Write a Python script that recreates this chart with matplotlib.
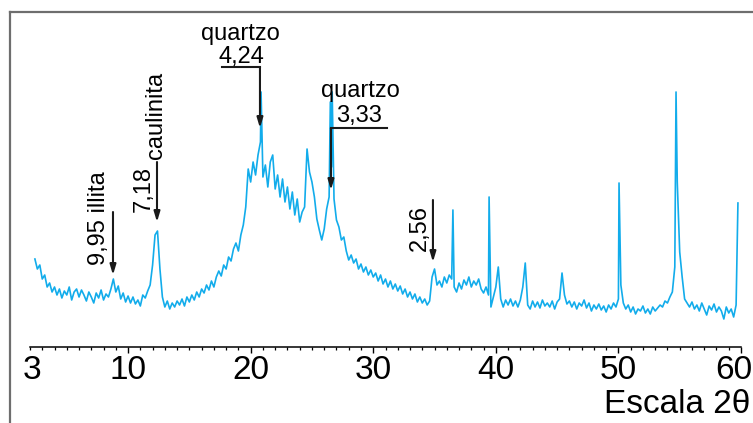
import numpy as np
import matplotlib.pyplot as plt
from matplotlib.lines import Line2D

plt.rcParams['font.family'] = ['Liberation Sans', 'DejaVu Sans']

# diffractogram, intensity (arbitrary units), 0.2 deg steps
theta_start = 2.4
theta_step = 0.2
intensity = [
    88, 78, 82, 68, 72, 60, 64, 55, 60, 52,
    58, 49, 56, 52, 60, 47, 55, 58, 50, 57,
    52, 46, 55, 50, 44, 54, 49, 57, 47, 53,
    50, 58, 68, 55, 61, 48, 54, 45, 51, 44,
    50, 43, 47, 41, 52, 49, 56, 62, 82, 112,
    116, 78, 50, 40, 46, 38, 44, 40, 46, 42,
    48, 41, 50, 45, 52, 47, 55, 50, 58, 54,
    62, 57, 66, 60, 70, 76, 71, 82, 78, 90,
    86, 98, 104, 96, 112, 122, 140, 178, 165, 185,
    172, 192, 205, 170, 182, 160, 185, 192, 158, 172,
    150, 168, 145, 160, 138, 155, 132, 148, 125, 135,
    140, 198, 175, 165, 150, 128, 117, 107, 118, 138,
    150, 180, 148, 127, 120, 107, 110, 96, 87, 92,
    84, 88, 78, 83, 75, 80, 72, 77, 70, 74,
    66, 72, 63, 68, 60, 66, 58, 63, 56, 61,
    53, 58, 50, 55, 48, 53, 45, 50, 44, 48,
    42, 46, 70, 78, 62, 66, 60, 70, 64, 72,
    68, 60, 55, 64, 58, 67, 62, 70, 60, 66,
    62, 68, 58, 54, 60, 52, 40, 50, 60, 80,
    48, 40, 47, 42, 48, 41, 46, 40, 47, 60,
    84, 42, 38, 46, 40, 45, 39, 47, 41, 44,
    40, 46, 38, 45, 48, 74, 52, 43, 46, 40,
    45, 38, 44, 41, 47, 39, 44, 36, 42, 38,
    43, 37, 41, 35, 42, 38, 44, 40, 48, 62,
    44, 38, 42, 35, 40, 33, 38, 36, 41, 34,
    38, 33, 40, 36, 39, 42, 40, 46, 44, 50,
    55, 80, 165, 95, 70, 48, 44, 40, 45, 38,
    42, 36, 44, 38, 32, 41, 37, 43, 35, 40,
    36, 28, 40, 34, 38, 30, 42,
]
# narrow reflections between the grid points
spike_theta = [20.85, 26.5, 26.65, 36.5, 39.45, 50.05, 54.7, 59.75]
spike_int = [255, 245, 255, 137, 150, 164, 255, 144]

tick_pos = [3, 10, 20, 30, 40, 50, 60]
tick_text = ['3', '10', '20', '30', '40', '50', '60']

two_theta = theta_start + theta_step * np.arange(len(intensity))
x = np.concatenate([two_theta, spike_theta])
y = np.concatenate([intensity, spike_int])
order = np.argsort(x)
x, y = x[order], y[order]

fig = plt.figure(figsize=(7.53, 4.23), dpi=100)
ax = fig.add_axes([30/753, 76/423, 711/753, 327/423])
ax.plot(x, y, color='#12aceb', lw=1.2)
ax.set_xlim(2, 60)
ax.set_ylim(0, 327)

for s in ['left', 'right', 'top']:
    ax.spines[s].set_visible(False)
ax.spines['bottom'].set_linewidth(1.1)
ax.set_yticks([])
ax.set_xticks(tick_pos[1:])
ax.set_xticklabels([])
ax.set_xticks(np.arange(2, 61, 1), minor=True)
ax.tick_params(axis='x', which='major', length=4, width=1)
ax.tick_params(axis='x', which='minor', length=2.5, width=0.9)
# tick labels drawn by hand: the first and last sit a little left of their ticks
for pos, txt in zip(tick_pos, tick_text):
    dx = {3: -10, 60: -7}.get(pos, 0)
    ax.annotate(txt, xy=(pos, 0), xycoords=('data', 'axes fraction'), xytext=(dx, -8),
                textcoords='offset pixels', ha='center', va='top', fontsize=24)
fig.text(750/753, 1 - 413/423, 'Escala 2θ', ha='right', va='baseline', fontsize=24)

# labels and arrows
arrow = dict(arrowstyle='-|>,head_length=0.6,head_width=0.18', color='#1a1a1a',
             lw=1.5, shrinkA=0, shrinkB=0)
fs = 17
ax.annotate('', xy=(8.77, 72), xytext=(8.77, 135), arrowprops=arrow)
ax.text(7.63, 129, '9,95 illita', rotation=90, ha='center', va='center', fontsize=fs)
ax.annotate('', xy=(12.36, 125), xytext=(12.36, 185), arrowprops=arrow)
ax.text(11.30, 158, '7,18', rotation=90, ha='center', va='center', fontsize=fs)
ax.text(12.24, 232, 'caulinita', rotation=90, ha='center', va='center', fontsize=fs)

ax.plot([17.66, 20.76], [280, 280], color='#1a1a1a', lw=1.5, clip_on=False)
ax.annotate('', xy=(20.76, 219), xytext=(20.76, 280), arrowprops=arrow)
ax.text(19.13, 307, 'quartzo', ha='center', va='baseline', fontsize=fs)
ax.text(19.21, 284, '4,24', ha='center', va='baseline', fontsize=fs)

ax.plot([26.55, 31.12], [219, 219], color='#1a1a1a', lw=1.5)
ax.annotate('', xy=(26.55, 157), xytext=(26.55, 219), arrowprops=arrow)
ax.text(28.92, 250, 'quartzo', ha='center', va='baseline', fontsize=fs)
ax.text(28.84, 225, '3,33', ha='center', va='baseline', fontsize=fs)

ax.annotate('', xy=(34.87, 85), xytext=(34.87, 147), arrowprops=arrow)
ax.text(33.81, 119, '2,56', rotation=90, ha='center', va='center', fontsize=fs)

# grey frame of the original page
fig.add_artist(Line2D([10/753, 10/753], [0, 1 - 12/423], color='#6e6e6e', lw=1.6))
fig.add_artist(Line2D([10/753, 1], [1 - 12/423, 1 - 12/423], color='#6e6e6e', lw=1.6))

fig.savefig('out.png', dpi=100)
